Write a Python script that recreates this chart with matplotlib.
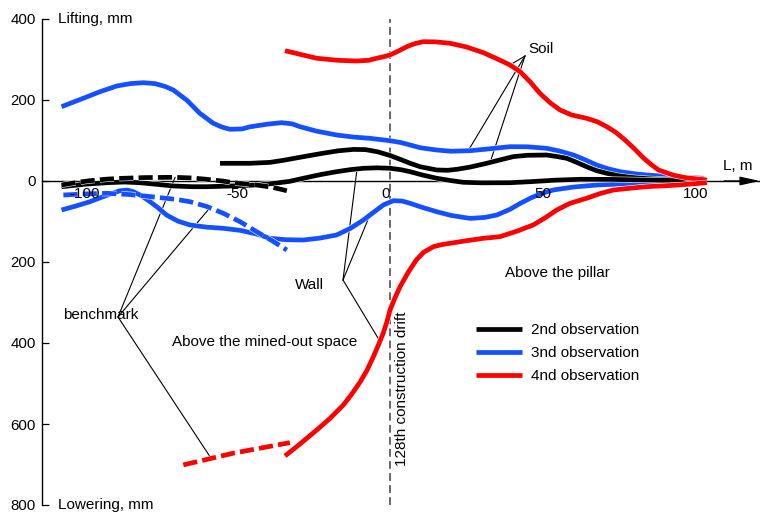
import matplotlib
matplotlib.use("Agg")
import matplotlib.pyplot as plt
import matplotlib.patheffects as pe
import numpy as np

plt.rcParams['font.family'] = ['Liberation Sans', 'DejaVu Sans']

# ---- distance along the profile, m, and vertical displacement, mm (lifting > 0) ----
# 2nd observation
obs2_soil_L = [-55.7, -45.9, -39.3, -35.0, -28.4, -22.0, -17.0, -12.0, -8.0, -4.0, 0.0,
               3.5, 6.6, 10.0, 15.3, 19.0, 21.9, 26.0, 31.7, 36.0, 40.4, 45.0, 51.3, 55.0,
               57.9, 61.0, 64.4, 67.5, 71.0, 74.5, 78.6, 84.0, 90.1, 102.7]
obs2_soil_v = [43.7, 43.7, 46.0, 51.0, 60.0, 68.5, 74.5, 78.0, 77.5, 72.0, 63.0,
               53.0, 43.7, 35.0, 27.2, 26.5, 28.9, 34.0, 43.7, 52.0, 60.2, 63.5, 64.2, 60.0,
               56.0, 46.5, 35.3, 26.0, 19.0, 13.5, 9.1, 6.0, 3.7, 2.5]
obs2_wall_L = [-107.6, -100.0, -92.8, -87.0, -81.9, -76.0, -71.0, -65.0, -60.1, -55.0,
               -49.1, -43.0, -38.2, -33.0, -28.4, -23.0, -17.5, -13.0, -8.7, -4.0, 0.0,
               3.5, 6.6, 10.5, 15.3, 19.5, 24.0, 30.0, 39.3, 45.9, 54.0, 62.3, 72.0, 84.1,
               94.0, 102.7]
obs2_wall_v = [-14.1, -8.0, -4.2, -2.5, -4.2, -8.5, -12.3, -14.0, -14.1, -13.0,
               -11.6, -9.5, -6.0, -1.0, 6.7, 15.5, 23.0, 28.0, 31.4, 32.5, 31.4,
               28.0, 23.0, 15.0, 6.7, 1.5, -3.2, -4.5, -4.2, -1.7, 2.0, 4.2, 4.0, 2.5,
               1.0, -1.7]
obs2_bench_L = [-107.6, -103.0, -98.3, -93.0, -87.4, -80.0, -71.0, -65.0, -60.1, -55.0,
                -51.3, -47.0, -43.7, -38.5, -33.8]
obs2_bench_v = [-9.9, -4.0, 0.7, 4.5, 6.7, 8.5, 9.1, 7.5, 4.2, 0.0,
                -4.2, -7.5, -9.9, -15.5, -24.0]

# 3rd observation
obs3_soil_L = [-107.6, -100.5, -95.0, -89.5, -85.0, -80.8, -77.0, -73.5, -71.0, -66.6,
               -62.3, -57.9, -55.0, -52.4, -48.5, -45.9, -40.0, -35.5, -32.0, -29.5, -24.0,
               -17.5, -12.0, -6.6, 0.0, 3.5, 6.6, 10.0, 15.3, 20.0, 26.2, 32.0, 39.3, 45.0,
               51.3, 55.5, 60.1, 64.0, 67.7, 71.5, 75.4, 80.0, 84.1, 92.0, 102.7]
obs3_soil_v = [183.5, 204.2, 220.5, 234.6, 240.5, 242.7, 240.5, 233.0, 224.7, 199.8,
               167.2, 142.5, 133.0, 127.7, 128.5, 133.8, 140.5, 144.0, 141.0, 134.1, 123.0,
               113.6, 108.5, 105.4, 99.5, 95.0, 88.9, 82.0, 76.5, 73.5, 74.8, 79.0, 84.7, 84.5,
               80.7, 74.0, 64.2, 52.0, 39.5, 30.0, 23.0, 18.0, 14.8, 10.5, 6.7]
obs3_wall_L = [-107.6, -103.0, -98.3, -93.0, -88.5, -86.0, -84.1, -81.5, -78.6, -76.0,
               -73.2, -69.5, -65.5, -60.0, -54.6, -49.0, -43.7, -39.3, -34.0, -28.4, -23.0,
               -17.5, -13.0, -8.7, -5.5, -2.2, 1.1, 4.0, 6.6, 10.5, 15.3, 20.0, 26.2, 31.0,
               35.0, 39.3, 42.5, 45.9, 49.5, 53.5, 60.0, 67.7, 75.0, 84.1, 102.7]
obs3_wall_v = [-71.6, -62.0, -51.1, -36.0, -24.0, -22.5, -26.4, -36.0, -51.1, -66.0,
               -84.0, -99.0, -108.6, -114.0, -116.8, -122.0, -130.9, -141.5, -145.0, -145.7,
               -141.0, -133.3, -117.0, -96.3, -78.0, -59.3, -48.6, -49.5, -55.1, -65.0,
               -75.8, -85.0, -92.3, -90.0, -84.0, -69.9, -56.0, -42.7, -31.0, -22.2, -15.0,
               -9.9, -7.5, -5.7, -5.7]
obs3_bench_L = [-107.0, -100.0, -92.8, -85.0, -76.4, -70.0, -65.5, -60.0, -54.6, -49.0,
                -43.7, -38.5, -33.8]
obs3_bench_v = [-34.6, -32.0, -30.4, -33.5, -40.2, -45.5, -51.1, -63.0, -79.8, -101.0,
                -125.2, -148.0, -170.4]

# 4th observation
obs4_soil_L = [-34.4, -29.0, -24.0, -17.0, -10.9, -7.0, -4.4, -2.0, 0.0, 2.5, 5.5, 8.0,
               10.9, 15.0, 19.7, 25.0, 30.6, 35.0, 39.3, 42.6, 46.0, 49.1, 52.5, 55.7, 59.5,
               64.4, 68.0, 71.0, 74.0, 77.0, 80.0, 83.0, 85.5, 88.0, 93.0, 97.0, 103.8]
obs4_soil_v = [321.7, 312.0, 303.0, 298.0, 296.3, 298.0, 303.0, 307.0, 311.1, 320.0,
               331.6, 339.0, 344.0, 343.5, 340.0, 331.0, 316.8, 302.0, 286.4, 270.0, 244.0,
               216.5, 193.0, 175.3, 163.0, 154.8, 146.0, 134.1, 120.0, 101.2, 80.0, 57.0,
               41.0, 27.0, 14.0, 8.0, 2.5]
obs4_wall_L = [-34.4, -29.5, -24.0, -19.7, -15.3, -12.5, -9.8, -7.5, -5.5, -3.8, -2.2,
               -1.0, 0.0, 1.6, 3.3, 6.0, 8.6, 11.0, 14.2, 17.0, 19.7, 25.0, 30.6, 36.0,
               41.5, 46.9, 51.0, 54.6, 59.0, 64.4, 68.8, 73.2, 79.7, 84.1, 90.7, 95.0, 103.8]
obs4_wall_v = [-679.0, -649.4, -614.8, -586.4, -553.1, -525.9, -496.3, -466.7, -434.6,
               -404.9, -375.3, -347.0, -318.5, -289.0, -261.0, -225.0, -195.1, -176.0,
               -162.2, -157.0, -153.8, -147.5, -141.5, -137.5, -124.0, -108.6, -90.0,
               -71.6, -55.0, -42.7, -31.0, -22.2, -17.0, -14.0, -11.5, -9.5, -4.2]
obs4_bench_L = [-67.7, -51.3, -32.8]
obs4_bench_v = [-701.0, -672.0, -646.0]

x_ticks = [-100, -50, 0, 50, 100]
x_tick_labels = ['-100', '-50', '0', '50', '100']
y_ticks = [400, 200, 0, -200, -400, -600, -800]
y_tick_labels = ['400', '200', '0', '200', '400', '600', '800']
legend_labels = ['2nd observation', '3nd observation', '4nd observation']

BLACK = '#000000'
BLUE = '#1450ff'
RED = '#ff0000'
LW = 3.4

fig = plt.figure(figsize=(7.6, 5.12), dpi=100)
ax = fig.add_axes([42 / 760, 7 / 512, 718 / 760, 486 / 512])
ax.set_xlim(-114.0, 121.2)
ax.set_ylim(-800, 400)

for side in ('top', 'right'):
    ax.spines[side].set_visible(False)
ax.spines['left'].set_linewidth(1.0)
ax.spines['bottom'].set_position(('data', 0))
ax.spines['bottom'].set_linewidth(1.0)

ax.set_xticks(x_ticks, x_tick_labels)
ax.set_yticks(y_ticks, y_tick_labels)
ax.tick_params(axis='x', length=0, pad=4.5, labelsize=11)
ax.tick_params(axis='y', direction='in', length=5.2, width=0.9, pad=4.3, labelsize=10.8)
ax.get_xticklabels()[2].set_horizontalalignment('right')
ax.xaxis.set_zorder(5)

# arrow head of the horizontal axis
ax.annotate('', xy=(1.0, 0), xycoords=ax.get_yaxis_transform(),
            xytext=(0.95, 0), textcoords=ax.get_yaxis_transform(),
            arrowprops=dict(arrowstyle='-|>,head_length=1.0,head_width=0.22',
                            color='black', lw=1.0, mutation_scale=12,
                            shrinkA=0, shrinkB=0))

# construction drift
ax.axvline(0, color='#666666', lw=1.4, dashes=(4, 2.2), zorder=1)
ax.text(3.8, -513.6, '128th construction drift', rotation=90, ha='center',
        va='center', fontsize=11)

halo = [pe.Stroke(linewidth=LW + 0.8, foreground='white'), pe.Normal()]


def curve(L, v, color, dashed=False, label=None):
    kw = dict(color=color, lw=LW, solid_capstyle='butt', solid_joinstyle='round',
              path_effects=halo, zorder=3)
    if dashed:
        kw.update(dashes=(3.0, 1.1), dash_capstyle='butt')
    return ax.plot(L, v, label=label, **kw)[0]


h3 = curve(obs3_soil_L, obs3_soil_v, BLUE, label=legend_labels[1])
curve(obs3_wall_L, obs3_wall_v, BLUE)
curve(obs3_bench_L, obs3_bench_v, BLUE, dashed=True)
h2 = curve(obs2_soil_L, obs2_soil_v, BLACK, label=legend_labels[0])
curve(obs2_wall_L, obs2_wall_v, BLACK)
curve(obs2_bench_L, obs2_bench_v, BLACK, dashed=True)
h4 = curve(obs4_soil_L, obs4_soil_v, RED, label=legend_labels[2])
curve(obs4_wall_L, obs4_wall_v, RED)
curve(obs4_bench_L, obs4_bench_v, RED, dashed=True)


def pointer(hub, Ls, vs, at):
    """Thin leader line from a caption hub to the curve (Ls, vs) at distance `at`."""
    y = np.interp(at, Ls, vs)
    ax.plot([hub[0], at], [hub[1], y], color='black', lw=0.8, zorder=2)


soil_hub = (44.2, 308.6)
pointer(soil_hub, obs4_soil_L, obs4_soil_v, 39.3)
pointer(soil_hub, obs3_soil_L, obs3_soil_v, 25.6)
pointer(soil_hub, obs2_soil_L, obs2_soil_v, 32.8)
ax.text(45.2, 326, 'Soil', ha='left', va='center', fontsize=11)

wall_hub = (-15.4, -244.4)
pointer(wall_hub, obs2_wall_L, obs2_wall_v, -10.8)
pointer(wall_hub, obs3_wall_L, obs3_wall_v, -6.6)
pointer(wall_hub, obs4_wall_L, obs4_wall_v, -3.3)
ax.text(-21.6, -256.8, 'Wall', ha='right', va='center', fontsize=11)

bench_hub = (-89.1, -335.8)
pointer(bench_hub, obs2_bench_L, obs2_bench_v, -70.4)
pointer(bench_hub, obs3_bench_L, obs3_bench_v, -59.0)
pointer(bench_hub, obs4_bench_L, obs4_bench_v, -58.6)
ax.text(-107.1, -331, 'benchmark', ha='left', va='center', fontsize=11)

ax.text(-71.4, -396.8, 'Above the mined-out space', ha='left', va='center', fontsize=11)
ax.text(37.7, -227.9, 'Above the pillar', ha='left', va='center', fontsize=11)

ax.text(109.1, 37, 'L, m', ha='left', va='center', fontsize=11)
ax.text(-108.8, 400, 'Lifting, mm', ha='left', va='center', fontsize=11)
ax.text(-108.8, -800, 'Lowering, mm', ha='left', va='center', fontsize=11)

leg = ax.legend(handles=[h2, h3, h4], labels=legend_labels, loc='upper left',
                bbox_to_anchor=(476 / 760, 1 - 323 / 512),
                bbox_transform=fig.transFigure, frameon=False, fontsize=11,
                handlelength=3.0, handletextpad=0.6, labelspacing=0.6,
                borderpad=0, borderaxespad=0)

fig.savefig('out.png', dpi=100)
